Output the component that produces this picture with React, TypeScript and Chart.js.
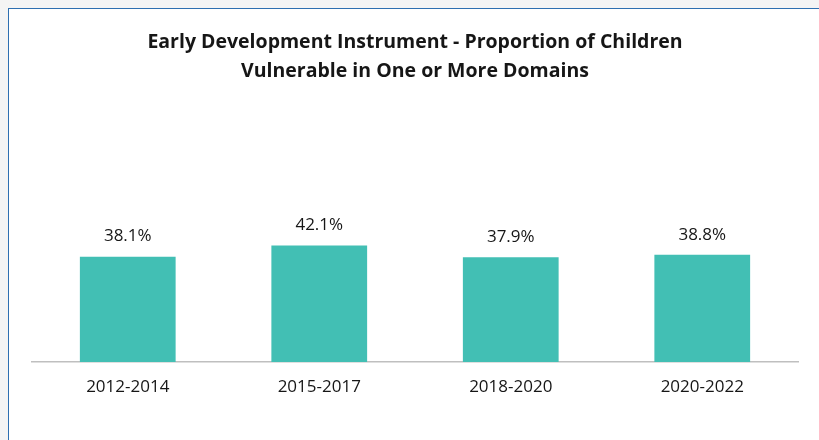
import React, { useEffect, useRef } from "react";
import { Chart, registerables } from "chart.js";

Chart.register(...registerables);

const categories: string[] = ["2012-2014", "2015-2017", "2018-2020", "2020-2022"];
const values: number[] = [38.1, 42.1, 37.9, 38.8];
const titleLines: string[] = [
  "Early Development Instrument - Proportion of Children",
  "Vulnerable in One or More Domains",
];

const FONT = "'Open Sans', 'Noto Sans', sans-serif";
const TEXT = "#161616";

const labelPlugin = {
  id: "barLabels",
  afterDatasetsDraw(chart: any) {
    const { ctx } = chart;
    const meta = chart.getDatasetMeta(0);
    ctx.save();
    ctx.font = `17px ${FONT}`;
    ctx.fillStyle = TEXT;
    ctx.textAlign = "center";
    ctx.textBaseline = "middle";
    meta.data.forEach((bar: any, i: number) => {
      const v = chart.data.datasets[0].data[i] as number;
      ctx.fillText(`${v.toFixed(1)}%`, bar.x, bar.y - 20);
    });
    ctx.restore();
  },
};

export default function App() {
  const ref = useRef<HTMLCanvasElement | null>(null);
  useEffect(() => {
    document.documentElement.style.overflow = "hidden";
    document.body.style.background = "#f4f4f4";
    if (!ref.current) return;
    const chart = new Chart(ref.current, {
      type: "bar",
      data: {
        labels: categories,
        datasets: [
          {
            data: values,
            backgroundColor: "#42bfb4",
            barPercentage: 0.5,
            categoryPercentage: 1,
          },
        ],
      },
      options: {
        animation: false,
        responsive: true,
        maintainAspectRatio: false,
        layout: { padding: { left: 23, right: 21, top: 0, bottom: 35.6 } },
        plugins: {
          legend: { display: false },
          tooltip: { enabled: false },
          title: {
            display: true,
            text: titleLines,
            color: TEXT,
            font: { family: FONT, size: 19.5, weight: "bold", lineHeight: 29 / 19.5 },
            padding: { top: 18.5, bottom: 0 },
          },
        },
        scales: {
          x: {
            grid: { display: false },
            border: { display: true, color: "#bfbfbf", width: 1.5 },
            ticks: {
              color: TEXT,
              font: { family: FONT, size: 17 },
              padding: 7,
            },
          },
          y: {
            display: false,
            min: 0,
            max: 100,
          },
        },
      },
      plugins: [labelPlugin],
    });
    return () => chart.destroy();
  }, []);
  return (
    <div
      style={{
        position: "absolute",
        left: 8,
        top: 8,
        width: 811,
        height: 432,
        boxSizing: "border-box",
        background: "#ffffff",
        borderTop: "1px solid #2e6fb0",
        borderLeft: "1px solid #2e6fb0",
      }}
    >
      <div style={{ position: "relative", width: 810, height: 431 }}>
        <canvas ref={ref} />
      </div>
    </div>
  );
}
